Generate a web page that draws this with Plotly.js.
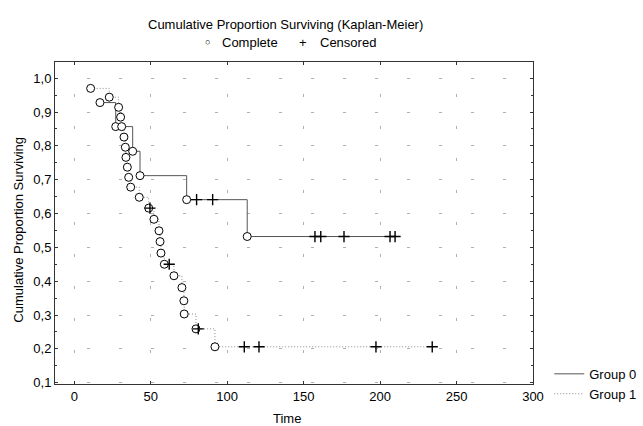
<!DOCTYPE html>
<html>
<head>
<meta charset="utf-8">
<script src="https://cdn.plot.ly/plotly-3.0.1.min.js"></script>
<style>html,body{margin:0;padding:0;background:#fff;}#chart{width:643px;height:426px;}</style>
</head>
<body>
<div id="chart"></div>
<script>
// Group 0: event (complete) times and survival values
const g0EventT = [16.8, 27.1, 38.2, 43.0, 73.5, 113.1];
const g0EventS = [0.928, 0.857, 0.784, 0.712, 0.641, 0.532];
// Group 0: censored times and survival values
const g0CensT = [80.0, 90.5, 157.4, 161.2, 176.4, 206.5, 209.8];
const g0CensS = [0.641, 0.641, 0.532, 0.532, 0.532, 0.532, 0.532];

// Group 1: event (complete) times and survival values
const g1EventT = [10.7, 22.9, 29.0, 30.3, 31.0, 32.5, 33.4, 33.8, 34.7, 35.6, 36.9, 42.5,
                  48.7, 52.1, 55.4, 56.1, 56.7, 58.9, 65.2, 70.4, 71.7, 71.9, 79.6, 92.0];
const g1EventS = [0.970, 0.944, 0.914, 0.885, 0.857, 0.826, 0.796, 0.766, 0.737, 0.707, 0.678, 0.648,
                  0.616, 0.583, 0.549, 0.517, 0.483, 0.450, 0.416, 0.381, 0.342, 0.303, 0.259, 0.206];
// Group 1: censored times and survival values
const g1CensT = [49.5, 62.1, 81.1, 111.2, 120.8, 197.3, 234.1];
const g1CensS = [0.616, 0.450, 0.259, 0.206, 0.206, 0.206, 0.206];

const groupNames = ["Group 0", "Group 1"];
const xTickVals = [0, 50, 100, 150, 200, 250, 300];
const yTickVals = [0.1, 0.2, 0.3, 0.4, 0.5, 0.6, 0.7, 0.8, 0.9, 1.0];

function merged(eT, eS, cT, cS) {
  const pts = [];
  eT.forEach((t, i) => pts.push([t, eS[i]]));
  cT.forEach((t, i) => pts.push([t, cS[i]]));
  pts.sort((a, b) => a[0] - b[0]);
  return {x: pts.map(p => p[0]), y: pts.map(p => p[1])};
}
const m0 = merged(g0EventT, g0EventS, g0CensT, g0CensS);
const m1 = merged(g1EventT, g1EventS, g1CensT, g1CensS);

const circleMarker = {symbol: 'circle', size: 8, color: '#ffffff', line: {color: '#000000', width: 1}};
const crossMarker = {symbol: 'cross-thin-open', size: 8, color: '#000000', line: {color: '#000000', width: 1.4}};

const traces = [
  {x: m0.x, y: m0.y, mode: 'lines', line: {shape: 'hv', color: '#555555', width: 1}, name: groupNames[0]},
  {x: m1.x, y: m1.y, mode: 'lines', line: {shape: 'hv', color: '#8a8a8a', width: 1, dash: '1px,2px'}, name: groupNames[1]},
  {x: g0EventT, y: g0EventS, mode: 'markers', marker: circleMarker, showlegend: false, hoverinfo: 'skip'},
  {x: g1EventT, y: g1EventS, mode: 'markers', marker: circleMarker, showlegend: false, hoverinfo: 'skip'},
  {x: g0CensT, y: g0CensS, mode: 'markers', marker: crossMarker, showlegend: false, hoverinfo: 'skip'},
  {x: g1CensT, y: g1CensS, mode: 'markers', marker: crossMarker, showlegend: false, hoverinfo: 'skip'}
];

const font = {family: 'Liberation Sans, Arial, sans-serif', size: 13, color: '#000000'};

const layout = {
  width: 643, height: 426,
  margin: {l: 55, r: 110, t: 62, b: 42, autoexpand: false},
  paper_bgcolor: '#ffffff', plot_bgcolor: '#ffffff',
  separators: ',.',
  font: font,
  showlegend: true,
  legend: {x: 1.034, xanchor: 'left', y: 0.078, yanchor: 'top', font: font, bgcolor: 'rgba(0,0,0,0)', tracegroupgap: 0},
  xaxis: {
    range: [-12.6, 300], tickvals: xTickVals, showline: true, linecolor: '#333333', linewidth: 1, mirror: 'ticks',
    ticks: 'inside', ticklen: 3, tickcolor: '#333333', zeroline: false, automargin: false,
    showgrid: true, gridcolor: '#b0b0b0', gridwidth: 1, griddash: '3px,29px', tickfont: font
  },
  yaxis: {
    range: [0.096, 1.048], tickvals: yTickVals, tickformat: '.1f', showline: true, linecolor: '#333333', linewidth: 1, mirror: 'ticks',
    ticks: 'inside', ticklen: 3, tickcolor: '#333333', zeroline: false, automargin: false,
    minor: {dtick: 0.05, ticks: 'inside', ticklen: 2, tickcolor: '#333333', showgrid: false},
    showgrid: true, gridcolor: '#b0b0b0', gridwidth: 1, griddash: '3px,29px', tickfont: font
  },
  annotations: [
    {text: 'Cumulative Proportion Surviving (Kaplan-Meier)', xref: 'paper', yref: 'paper', x: 0.483, y: 1.115, xanchor: 'center', yanchor: 'middle', showarrow: false, font: font},
    {text: '○', xref: 'paper', yref: 'paper', x: 0.320, y: 1.062, xanchor: 'center', yanchor: 'middle', showarrow: false, font: {family: font.family, size: 9, color: '#000'}},
    {text: 'Complete', xref: 'paper', yref: 'paper', x: 0.345, y: 1.062, xanchor: 'left', yanchor: 'middle', showarrow: false, font: font},
    {text: '+', xref: 'paper', yref: 'paper', x: 0.519, y: 1.062, xanchor: 'center', yanchor: 'middle', showarrow: false, font: font},
    {text: 'Censored', xref: 'paper', yref: 'paper', x: 0.550, y: 1.062, xanchor: 'left', yanchor: 'middle', showarrow: false, font: font},
    {text: 'Time', xref: 'paper', yref: 'paper', x: 0.485, y: -0.108, xanchor: 'center', yanchor: 'middle', showarrow: false, font: font},
    {text: 'Cumulative Proportion Surviving', xref: 'paper', yref: 'paper', x: -0.077, y: 0.48, xanchor: 'center', yanchor: 'middle', textangle: -90, showarrow: false, font: font}
  ]
};

Plotly.newPlot('chart', traces, layout, {displayModeBar: false, staticPlot: true});
</script>
</body>
</html>
